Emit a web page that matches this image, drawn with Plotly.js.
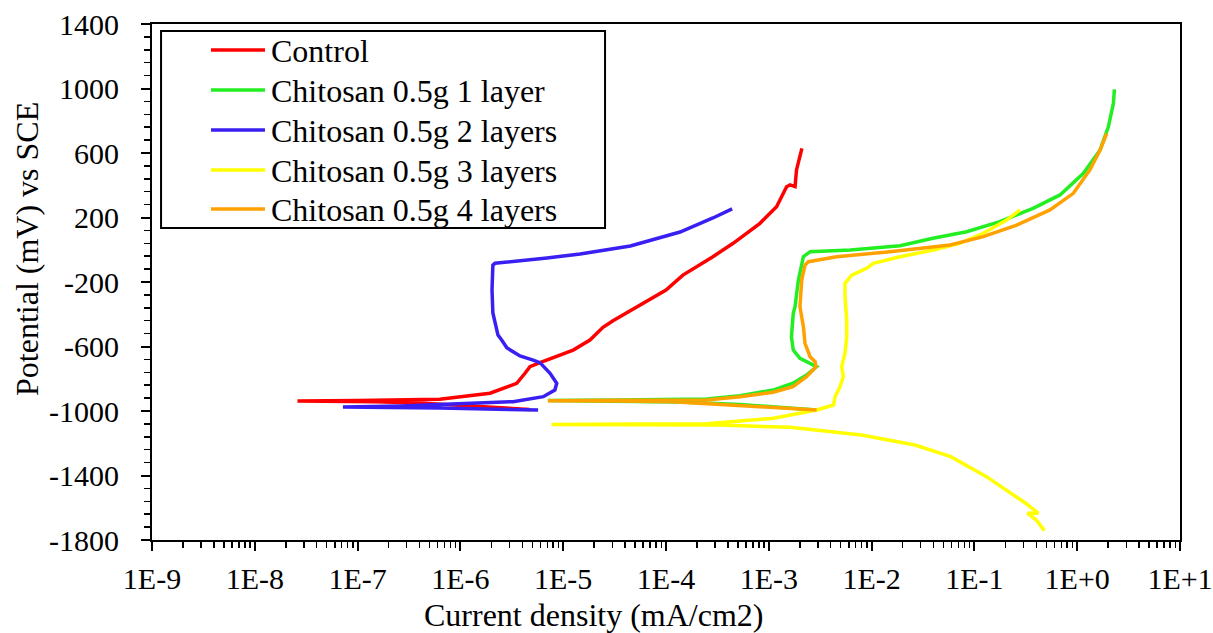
<!DOCTYPE html>
<html>
<head>
<meta charset="utf-8">
<script src="https://cdn.plot.ly/plotly-3.0.1.min.js"></script>
<style>html,body{margin:0;padding:0;background:#fff;}#chart{width:1213px;height:633px;}</style>
</head>
<body>
<div id="chart"></div>
<script>
// ---- Data (current density in mA/cm2, potential in mV vs SCE) ----
const seriesNames = ["Control", "Chitosan 0.5g 1 layer", "Chitosan 0.5g 2 layers", "Chitosan 0.5g 3 layers", "Chitosan 0.5g 4 layers"];
const seriesColors = ["#FF0000", "#22EE22", "#3A1FF2", "#FFFF00", "#FFA200"];

const controlI = [4.7e-6, 2.5e-6, 1.0e-6, 4.0e-7, 1.5e-7, 2.6e-8, 1.0e-7, 3.5e-7, 6.3e-7, 1.94e-6, 3.53e-6, 4.25e-6, 4.75e-6, 5.94e-6, 1.25e-5, 1.82e-5, 2.44e-5, 3.05e-5, 5.6e-5, 1.0e-4, 1.46e-4, 2.14e-4, 2.86e-4, 4.5e-4, 8.2e-4, 1.19e-3, 1.49e-3, 1.61e-3, 1.8e-3, 1.86e-3, 2.1e-3];
const controlE = [-990, -980, -962, -950, -943, -938, -935, -932, -927, -890, -828, -766, -725, -700, -622, -560, -481, -440, -343, -250, -157, -95, -43, 40, 164, 267, 391, 402, 391, 495, 629];

const layer1I = [2.92e-3, 1.10e-3, 5.25e-4, 1.37e-4, 3.57e-5, 7.1e-6, 3.57e-5, 2.49e-4, 5.25e-4, 1.10e-3, 1.72e-3, 2.33e-3, 2.92e-3, 2.01e-3, 1.73e-3, 1.66e-3, 1.73e-3, 1.8e-3, 1.94e-3, 2.17e-3, 2.52e-3, 6.2e-3, 1.89e-2, 3.95e-2, 8.4e-2, 0.177, 0.372, 0.68, 1.15, 1.67, 2.01, 2.25, 2.30];
const layer1E = [-994, -973, -960, -944, -938, -935, -932, -926, -905, -870, -828, -777, -725, -673, -622, -539, -394, -353, -188, -43, -12, -2, 25, 71, 112, 174, 257, 340, 474, 619, 763, 908, 995];

const layer2I = [5.7e-6, 2.4e-6, 6.3e-7, 2.07e-7, 7.2e-8, 2.6e-7, 1.55e-6, 3.25e-6, 6.4e-6, 8.3e-6, 8.65e-6, 7.45e-6, 5.94e-6, 5.1e-6, 3.8e-6, 2.84e-6, 2.52e-6, 2.32e-6, 2.07e-6, 2.03e-6, 2.07e-6, 2.17e-6, 6.95e-6, 1.46e-5, 4.5e-5, 1.37e-4, 2.86e-4, 4.4e-4];
const layer2E = [-994, -988, -981, -978, -975, -969, -952, -942, -911, -870, -828, -766, -700, -684, -659, -609, -560, -529, -392, -250, -95, -84, -51, -26, 23, 110, 197, 253];

const layer3I = [0.479, 0.40, 0.328, 0.418, 0.315, 0.229, 0.131, 5.9e-2, 2.64e-2, 7.96e-3, 1.61e-3, 3.25e-4, 5.6e-5, 7.7e-6, 5.6e-5, 2.49e-4, 1.11e-3, 2.92e-3, 4.25e-3, 4.42e-3, 4.93e-3, 5.31e-3, 5.12e-3, 5.51e-3, 5.73e-3, 5.73e-3, 5.51e-3, 5.51e-3, 6.4e-3, 8.95e-3, 1.04e-2, 1.89e-2, 3.98e-2, 7.2e-2, 0.122, 0.206, 0.278];
const layer3E = [-1742, -1676, -1634, -1634, -1572, -1510, -1407, -1283, -1211, -1149, -1101, -1087, -1085, -1083, -1081, -1079, -1045, -994, -963, -911, -849, -787, -725, -642, -539, -436, -291, -208, -157, -115, -84, -43, -2, 40, 102, 184, 247];

const layer4I = [2.92e-3, 1.10e-3, 5.25e-4, 1.17e-4, 3.57e-5, 7.1e-6, 3.57e-5, 2.49e-4, 5.25e-4, 1.10e-3, 1.72e-3, 2.33e-3, 2.88e-3, 2.82e-3, 2.52e-3, 2.25e-3, 2.17e-3, 2.01e-3, 2.09e-3, 2.25e-3, 2.43e-3, 4.57e-3, 1.51e-2, 5.8e-2, 0.122, 0.258, 0.543, 0.916, 1.33, 1.67, 1.94];
const layer4E = [-994, -977, -963, -942, -938, -936, -934, -932, -911, -884, -849, -787, -725, -694, -663, -580, -477, -353, -188, -95, -74, -43, -12, 29, 81, 153, 247, 350, 495, 619, 722];

const xTickVals = [1e-9, 1e-8, 1e-7, 1e-6, 1e-5, 1e-4, 1e-3, 1e-2, 1e-1, 1e0, 1e1];
const xTickText = ["1E-9", "1E-8", "1E-7", "1E-6", "1E-5", "1E-4", "1E-3", "1E-2", "1E-1", "1E+0", "1E+1"];
const yTickVals = [-1800, -1400, -1000, -600, -200, 200, 600, 1000, 1400];
const yTickText = ["-1800", "-1400", "-1000", "-600", "-200", "200", "600", "1000", "1400"];

// minor tick positions (axis furniture)
const xMinor = [];
for (let e = -9; e < 1; e++) for (let d = 2; d <= 9; d++) xMinor.push(d * Math.pow(10, e));
const yMinor = [];
for (let v = -1800; v <= 1400; v += 80) yMinor.push(v);

const xs = [controlI, layer1I, layer2I, layer3I, layer4I];
const ys = [controlE, layer1E, layer2E, layer3E, layer4E];

const FONT = "Liberation Serif";
const traces = seriesNames.map((n, i) => ({
  x: xs[i], y: ys[i], name: n, type: "scatter", mode: "lines",
  line: {color: seriesColors[i], width: 3.5}, showlegend: false
}));

// legend drawn inside a framed box (rows in paper coordinates)
const legendRowsY = [0.9496, 0.8721, 0.7946, 0.7171, 0.6415];
const legendShapes = seriesNames.map((n, i) => ({
  type: "line", xref: "paper", yref: "paper", x0: 0.0574, x1: 0.1099, y0: legendRowsY[i], y1: legendRowsY[i],
  line: {color: seriesColors[i], width: 3.5}
}));
const legendTexts = seriesNames.map((n, i) => ({
  text: n, xref: "paper", yref: "paper", x: 0.1138, y: legendRowsY[i] - 0.002, xanchor: "left", yanchor: "middle",
  showarrow: false, font: {family: FONT, size: 32, color: "#000"}
}));

const layout = {
  width: 1213, height: 633,
  margin: {l: 152, r: 33, t: 24, b: 93, pad: 0},
  paper_bgcolor: "#fff", plot_bgcolor: "#fff",
  font: {family: FONT, size: 30, color: "#000"},
  showlegend: false,
  xaxis: {
    type: "log", range: [-9, 1], tickmode: "array", tickvals: xTickVals, ticktext: xTickText,
    ticks: "outside", ticklen: 9, tickwidth: 2, tickcolor: "#000",
    showline: true, linecolor: "#000", linewidth: 2, mirror: true,
    showgrid: false, zeroline: false, ticklabelstandoff: 2,
    tickfont: {family: FONT, size: 30, color: "#000"},
    minor: {tickmode: "array", tickvals: xMinor, ticks: "outside", ticklen: 6, tickwidth: 1.5, tickcolor: "#000", showgrid: false}
  },
  yaxis: {
    range: [-1800, 1400], tickmode: "array", tickvals: yTickVals, ticktext: yTickText,
    ticks: "outside", ticklen: 9, tickwidth: 2, tickcolor: "#000",
    showline: true, linecolor: "#000", linewidth: 2, mirror: true,
    showgrid: false, zeroline: false, ticklabelstandoff: 16,
    tickfont: {family: FONT, size: 30, color: "#000"},
    minor: {tickmode: "array", tickvals: yMinor, ticks: "outside", ticklen: 6, tickwidth: 1.5, tickcolor: "#000", showgrid: false}
  },
  shapes: [{
    type: "rect", xref: "paper", yref: "paper",
    x0: 0.0088, x1: 0.4407, y0: 0.6047, y1: 0.9864,
    line: {color: "#000", width: 2}, fillcolor: "rgba(0,0,0,0)", layer: "below"
  }].concat(legendShapes),
  annotations: [
    {text: "Current density (mA/cm2)", xref: "paper", yref: "paper", x: 0.429, y: -0.145,
     xanchor: "center", yanchor: "middle", showarrow: false, font: {family: FONT, size: 32, color: "#000"}},
    {text: "Potential (mV) vs SCE", xref: "paper", yref: "paper", x: -0.1216, y: 0.564, textangle: -90,
     xanchor: "center", yanchor: "middle", showarrow: false, font: {family: FONT, size: 32, color: "#000"}}
  ].concat(legendTexts)
};

Plotly.newPlot("chart", traces, layout, {displayModeBar: false, staticPlot: true});
</script>
</body>
</html>
